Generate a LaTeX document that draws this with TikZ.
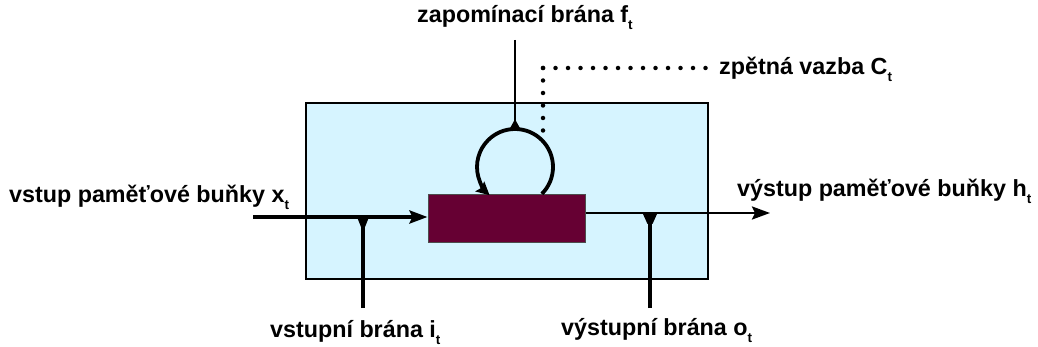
\documentclass[tikz,border=0pt]{standalone}
\usepackage{fontspec}
\setmainfont{Liberation Sans}
\usetikzlibrary{arrows.meta}
\definecolor{cellfill}{RGB}{214,244,255}
\definecolor{memfill}{RGB}{102,0,51}
% lowered small index after a label
\newcommand{\lblsub}[1]{\raisebox{-7pt}{\fontsize{13.5}{13.5}\selectfont #1}}
\tikzset{
  lbl/.style={font=\bfseries\fontsize{23.3}{27}\selectfont, inner sep=0pt, anchor=base west},
  cellbox/.style={draw=black, line width=2.5pt, fill=cellfill, inner sep=0pt},
  membox/.style={draw=black!70, line width=1pt, fill=memfill, inner sep=0pt},
  thickline/.style={line width=3.8pt},
  thinline/.style={line width=1.3pt},
  bigtip/.style={-{Stealth[length=18pt,width=13pt,inset=3pt]}},
  dots/.style={line width=4.5pt, line cap=round, dash pattern=on 0pt off 12.5pt}
}
\begin{document}
\begin{tikzpicture}[x=1pt,y=-1pt]
\useasboundingbox (0,0) rectangle (1038,347);

% memory cell and its state block
\node[cellbox, minimum width=402pt, minimum height=176pt] (cell) at (507,191) {};
\node[membox, minimum width=157pt, minimum height=48pt] (mem) at (506.5,219) {};

% end points of the connectors
\coordinate (in) at (253,217);
\coordinate (out) at (770,213);
\coordinate (ig) at (363,308);
\coordinate (og) at (650,308);
\coordinate (loop) at (515,167);
\coordinate (looptop) at (515,129);
\coordinate (fg) at (515,40);
\coordinate (fbcorner) at (543,68);
\coordinate (fbend) at (710,68);
\coordinate (fbbottom) at (543,137);

% input and output
\draw[thickline, bigtip] (in) -- (in -| mem.west);
\draw[line width=2.5pt, bigtip] (mem.east |- out) -- (out);

% input gate and output gate
\draw[thickline] (ig) -- (ig |- in);
\fill (ig |- in) ++(-6,0) -- ++(12,0) -- ++(-4,10) -- ++(-4,0) -- cycle;
\draw[thickline] (og) -- (og |- out);
\fill (og |- out) ++(-7,1) -- ++(14,0) -- ++(-4.5,10) -- ++(-5,0) -- cycle;

% recurrent loop over the state block
\draw[thickline, -{Stealth[length=13pt,width=13pt,inset=2pt]}]
  (loop) ++(45:38) arc[start angle=45, end angle=-228, radius=38];

% forget gate
\draw[thinline] (fg) -- (looptop);
\fill (looptop) ++(-6,1) -- ++(12,0) -- ++(-5,-9) -- ++(-2,0) -- cycle;

% feedback
\draw[dots] (fbcorner) -- (fbend);
\draw[dots] (fbcorner) -- (fbbottom);

% labels
\node[lbl] (lforget) at (417,23) {zapomínací brána f\lblsub{t}};
\node[lbl] (lfb) at (719,75) {zpětná vazba C\lblsub{t}};
\node[lbl] (lin) at (9,203) {vstup paměťové buňky x\lblsub{t}};
\node[lbl] (lout) at (737,197) {výstup paměťové buňky h\lblsub{t}};
\node[lbl] (lig) at (270,337) {vstupní brána i\lblsub{t}};
\node[lbl] (log) at (561,335) {výstupní brána o\lblsub{t}};
\end{tikzpicture}
\end{document}
